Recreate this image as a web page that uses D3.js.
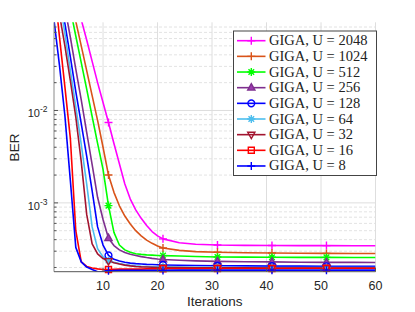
<!DOCTYPE html>
<html>
<head>
<meta charset="utf-8">
<script src="https://cdn.jsdelivr.net/npm/d3@7"></script>
<style>
  body { margin: 0; background: #fff; }
  text { font-family: "Liberation Sans", Arial, sans-serif; }
  text.leg { font-family: "Liberation Serif", "DejaVu Serif", serif; }
</style>
</head>
<body>
<svg id="chart" width="415" height="312"></svg>
<script>
// iteration index shared by every curve
const iterations = [1, 2, 3, 4, 5, 6, 7, 8, 9, 10, 11, 12, 13, 14, 15, 16, 17, 18, 19, 20,
                    21, 24, 27, 31, 36, 41, 46, 51, 56, 60];

// BER, one array per U
const berU2048 = [1.3, 0.8, 0.45, 0.27, 0.16, 0.096, 0.058, 0.034, 0.02, 0.0122, 7.4e-3, 4.4e-3, 2.65e-3, 1.6e-3, 1.1e-3, 8.4e-4, 6.8e-4, 5.7e-4, 4.9e-4, 4.4e-4,
                  4.08e-4, 3.7e-4, 3.57e-4, 3.5e-4, 3.47e-4, 3.46e-4, 3.45e-4, 3.45e-4, 3.44e-4, 3.44e-4];
const berU1024 = [1.1, 0.6, 0.32, 0.17, 0.092, 0.05, 0.027, 0.0145, 7.8e-3, 4.0e-3, 2.0e-3, 1.3e-3, 9.3e-4, 7.2e-4, 5.9e-4, 5.0e-4, 4.4e-4, 3.95e-4, 3.65e-4, 3.42e-4,
                  3.25e-4, 3.06e-4, 2.97e-4, 2.92e-4, 2.89e-4, 2.87e-4, 2.85e-4, 2.84e-4, 2.83e-4, 2.83e-4];
const berU512  = [0.9, 0.48, 0.25, 0.125, 0.064, 0.033, 0.017, 8.6e-3, 4.4e-3, 2.3e-3, 9.35e-4, 4.8e-4, 3.5e-4, 3.1e-4, 2.92e-4, 2.82e-4, 2.77e-4, 2.74e-4, 2.72e-4, 2.7e-4,
                  2.69e-4, 2.66e-4, 2.63e-4, 2.6e-4, 2.59e-4, 2.58e-4, 2.57e-4, 2.57e-4, 2.56e-4, 2.56e-4];
const berU256  = [0.65, 0.29, 0.13, 0.062, 0.028, 0.013, 5.8e-3, 2.6e-3, 1.15e-3, 6.6e-4, 4.15e-4, 3.45e-4, 3.1e-4, 2.9e-4, 2.78e-4, 2.7e-4, 2.62e-4, 2.56e-4, 2.51e-4, 2.47e-4,
                  2.44e-4, 2.39e-4, 2.36e-4, 2.33e-4, 2.31e-4, 2.3e-4, 2.28e-4, 2.27e-4, 2.27e-4, 2.26e-4];
const berU128  = [0.45, 0.2, 0.087, 0.038, 0.016, 7.2e-3, 3.2e-3, 1.35e-3, 5.5e-4, 3.5e-4, 2.7e-4, 2.45e-4, 2.35e-4, 2.28e-4, 2.23e-4, 2.2e-4, 2.18e-4, 2.16e-4, 2.15e-4, 2.14e-4,
                  2.13e-4, 2.11e-4, 2.1e-4, 2.09e-4, 2.08e-4, 2.07e-4, 2.07e-4, 2.06e-4, 2.06e-4, 2.06e-4];
const berU64   = [0.35, 0.16, 0.068, 0.027, 0.011, 4.3e-3, 1.6e-3, 5.5e-4, 3.2e-4, 2.6e-4, 2.38e-4, 2.27e-4, 2.2e-4, 2.15e-4, 2.11e-4, 2.08e-4, 2.06e-4, 2.05e-4, 2.04e-4, 2.03e-4,
                  2.03e-4, 2.02e-4, 2.01e-4, 2.01e-4, 2.0e-4, 2.0e-4, 2.0e-4, 2.0e-4, 2.0e-4, 2.0e-4];
const berU32   = [0.27, 0.11, 0.05, 0.021, 8.5e-3, 2.8e-3, 7.5e-4, 3.6e-4, 2.8e-4, 2.5e-4, 2.35e-4, 2.25e-4, 2.18e-4, 2.12e-4, 2.08e-4, 2.05e-4, 2.03e-4, 2.02e-4, 2.01e-4, 2.0e-4,
                  1.99e-4, 1.99e-4, 1.98e-4, 1.98e-4, 1.98e-4, 1.97e-4, 1.97e-4, 1.97e-4, 1.97e-4, 1.97e-4];
const berU16   = [0.23, 0.063, 0.018, 5.0e-3, 5.0e-4, 2.3e-4, 2.05e-4, 1.97e-4, 1.93e-4, 1.9e-4, 1.9e-4, 1.91e-4, 1.92e-4, 1.92e-4, 1.92e-4, 1.92e-4, 1.92e-4, 1.93e-4, 1.93e-4, 1.93e-4,
                  1.94e-4, 1.94e-4, 1.94e-4, 1.95e-4, 1.95e-4, 1.95e-4, 1.96e-4, 1.96e-4, 1.96e-4, 1.96e-4];
const berU8    = [0.095, 0.031, 8.8e-3, 1.75e-3, 3.3e-4, 2.3e-4, 2.02e-4, 1.9e-4, 1.8e-4, 1.8e-4, 1.84e-4, 1.85e-4, 1.86e-4, 1.86e-4, 1.86e-4, 1.86e-4, 1.86e-4, 1.86e-4, 1.86e-4, 1.86e-4,
                  1.86e-4, 1.87e-4, 1.87e-4, 1.87e-4, 1.87e-4, 1.87e-4, 1.87e-4, 1.87e-4, 1.87e-4, 1.87e-4];

const seriesNames = ['GIGA, U = 2048', 'GIGA, U = 1024', 'GIGA, U = 512', 'GIGA, U = 256', 'GIGA, U = 128',
                     'GIGA, U = 64', 'GIGA, U = 32', 'GIGA, U = 16', 'GIGA, U = 8'];
const seriesValues = [berU2048, berU1024, berU512, berU256, berU128, berU64, berU32, berU16, berU8];
const seriesColors = ['#ff00ff', '#d95319', '#00ff00', '#7e2f8e', '#0000ff', '#4dbeee', '#a2142f', '#ff0000', '#0000ff'];
const seriesMarkers = ['plus', 'plus', 'star', 'triUp', 'circle', 'star', 'triDown', 'square', 'plus'];

const markerIters = [11, 21, 31, 41, 51];
const xTicks = [10, 20, 30, 40, 50, 60];
const yMajor = [1e-3, 1e-2];

const margin = {top: 22.3, right: 39.5, bottom: 40.3, left: 54},
  w = 415 - margin.left - margin.right,
  h = 312 - margin.top - margin.bottom;

var svg = d3.select('#chart');
var g = svg.append('g')
  .attr('transform', 'translate(' + margin.left + ',' + margin.top + ')');

var xScale = d3.scaleLinear().domain([1, 60]).range([0, w]);
var yScale = d3.scaleLog().domain([1.8e-4, 0.09]).range([h, 0]);

// minor log ticks (2..9 inside each decade)
var yMinor = yScale.ticks().filter(d => yMajor.indexOf(d) < 0 && d > 1.8e-4 && d < 0.09);

// grid
g.append('g').selectAll('line')
  .data(yMinor).enter().append('line')
  .attr('x1', 0).attr('x2', w)
  .attr('y1', d => yScale(d)).attr('y2', d => yScale(d))
  .attr('stroke', '#e3e3e3').attr('stroke-dasharray', '3,2').attr('stroke-width', 1);

g.append('g').selectAll('line')
  .data(yMajor).enter().append('line')
  .attr('x1', 0).attr('x2', w)
  .attr('y1', d => yScale(d)).attr('y2', d => yScale(d))
  .attr('stroke', '#dedede').attr('stroke-width', 1);

g.append('g').selectAll('line')
  .data(xTicks).enter().append('line')
  .attr('y1', 0).attr('y2', h)
  .attr('x1', d => xScale(d)).attr('x2', d => xScale(d))
  .attr('stroke', '#dedede').attr('stroke-width', 1);

// clip
svg.append('defs').append('clipPath').attr('id', 'clip')
  .append('rect').attr('width', w).attr('height', h);

var body = g.append('g').attr('clip-path', 'url(#clip)');

var line = d3.line()
  .x(d => xScale(d[0]))
  .y(d => yScale(d[1]));

function markerPath(type, r) {
  if (type === 'plus') return 'M' + (-r) + ',0H' + r + 'M0,' + (-r) + 'V' + r;
  if (type === 'star') {
    var k = r * 0.7;
    return 'M' + (-r) + ',0H' + r + 'M0,' + (-r) + 'V' + r +
      'M' + (-k) + ',' + (-k) + 'L' + k + ',' + k + 'M' + (-k) + ',' + k + 'L' + k + ',' + (-k);
  }
  if (type === 'triUp') return 'M0,' + (-r) + 'L' + (r * 0.9) + ',' + (r * 0.6) + 'L' + (-r * 0.9) + ',' + (r * 0.6) + 'Z';
  if (type === 'triDown') return 'M0,' + r + 'L' + (r * 0.9) + ',' + (-r * 0.6) + 'L' + (-r * 0.9) + ',' + (-r * 0.6) + 'Z';
  if (type === 'square') return 'M' + (-r * 0.75) + ',' + (-r * 0.75) + 'h' + (r * 1.5) + 'v' + (r * 1.5) + 'h' + (-r * 1.5) + 'Z';
  if (type === 'circle') return d3.arc()({innerRadius: 0, outerRadius: r * 0.85, startAngle: 0, endAngle: 2 * Math.PI});
  return '';
}

function markerFill(type, color) {
  if (type === 'triUp') return d3.color(color).brighter(0.6);
  return 'none';
}

seriesValues.forEach(function(vals, s) {
  var pts = iterations.map((it, i) => [it, vals[i]]);
  body.append('path')
    .datum(pts)
    .attr('d', line)
    .attr('fill', 'none')
    .attr('stroke', seriesColors[s])
    .attr('stroke-width', 1.6)
    .attr('stroke-linejoin', 'round');

  var mk = pts.filter(p => markerIters.indexOf(p[0]) >= 0);
  g.append('g').selectAll('path')
    .data(mk).enter().append('path')
    .attr('transform', d => 'translate(' + xScale(d[0]) + ',' + yScale(d[1]) + ')')
    .attr('d', markerPath(seriesMarkers[s], 4))
    .attr('fill', markerFill(seriesMarkers[s], seriesColors[s]))
    .attr('stroke', seriesColors[s])
    .attr('stroke-width', 1.4);
});

// axes lines
g.append('line').attr('x1', 0).attr('x2', 0).attr('y1', 0).attr('y2', h)
  .attr('stroke', '#8a8a8a').attr('stroke-width', 1);
g.append('line').attr('x1', 0).attr('x2', w).attr('y1', h).attr('y2', h)
  .attr('stroke', '#555').attr('stroke-width', 1);

// y ticks (inward)
g.append('g').selectAll('line')
  .data(yMinor).enter().append('line')
  .attr('x1', 0).attr('x2', 2.5)
  .attr('y1', d => yScale(d)).attr('y2', d => yScale(d))
  .attr('stroke', '#555');
g.append('g').selectAll('line')
  .data(yMajor).enter().append('line')
  .attr('x1', 0).attr('x2', 4)
  .attr('y1', d => yScale(d)).attr('y2', d => yScale(d))
  .attr('stroke', '#555');
// x ticks
g.append('g').selectAll('line')
  .data(xTicks).enter().append('line')
  .attr('y1', h).attr('y2', h - 4)
  .attr('x1', d => xScale(d)).attr('x2', d => xScale(d))
  .attr('stroke', '#555');

// tick labels
g.append('g').selectAll('text')
  .data(xTicks).enter().append('text')
  .attr('x', d => xScale(d)).attr('y', h + 18)
  .attr('text-anchor', 'middle')
  .attr('font-size', 12.5).attr('fill', '#262626')
  .text(d => d);

var yl = g.append('g').selectAll('text')
  .data(yMajor).enter().append('text')
  .attr('x', -6.5).attr('y', d => yScale(d) + 7)
  .attr('text-anchor', 'end')
  .attr('font-size', 11).attr('fill', '#262626');
yl.append('tspan').text('10');
yl.append('tspan').attr('dy', -5).attr('font-size', 8.5).text(d => Math.round(Math.log10(d)));

// axis labels
svg.append('text')
  .attr('x', margin.left + w / 2).attr('y', 306)
  .attr('text-anchor', 'middle').attr('font-size', 13.5).attr('fill', '#262626')
  .text('Iterations');
svg.append('text')
  .attr('transform', 'translate(19,147.5) rotate(-90)')
  .attr('text-anchor', 'middle').attr('font-size', 13.5).attr('fill', '#262626')
  .text('BER');

// legend
var lg = svg.append('g').attr('transform', 'translate(233.5,31)');
lg.append('rect').attr('width', 143).attr('height', 144.5)
  .attr('fill', '#fff').attr('stroke', '#444').attr('stroke-width', 1);
seriesNames.forEach(function(name, s) {
  var yy = 9.7 + s * 15.66;
  lg.append('line').attr('x1', 3.5).attr('x2', 32).attr('y1', yy).attr('y2', yy)
    .attr('stroke', seriesColors[s]).attr('stroke-width', 1.6);
  lg.append('path')
    .attr('transform', 'translate(17.8,' + yy + ')')
    .attr('d', markerPath(seriesMarkers[s], 4))
    .attr('fill', markerFill(seriesMarkers[s], seriesColors[s]))
    .attr('stroke', seriesColors[s]).attr('stroke-width', 1.4);
  lg.append('text')
    .attr('class', 'leg')
    .attr('x', 35.5).attr('y', yy + 4.5)
    .attr('font-size', 14.5).attr('fill', '#222')
    .text(name);
});
</script>
</body>
</html>
